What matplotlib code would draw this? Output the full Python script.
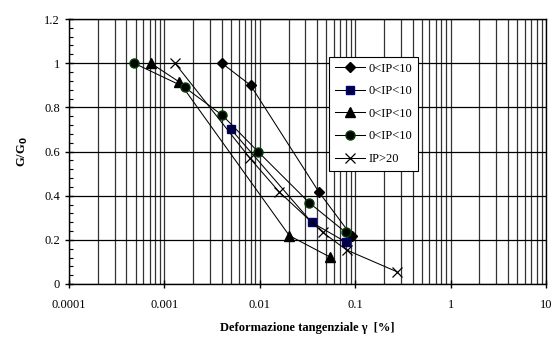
import matplotlib
matplotlib.use("Agg")
import matplotlib.pyplot as plt
from matplotlib.ticker import LogLocator, FixedLocator, MultipleLocator, NullFormatter, FixedFormatter

plt.rcParams['font.family'] = ['Liberation Serif', 'DejaVu Serif']

# Data
s1_x = [0.0040, 0.0080, 0.0414, 0.092]
s1_y = [1.00, 0.90, 0.418, 0.217]
s2_x = [0.0050, 0.035, 0.080]
s2_y = [0.70, 0.279, 0.19]
s3_x = [0.00072, 0.00143, 0.0204, 0.055]
s3_y = [1.00, 0.915, 0.219, 0.121]
s4_x = [0.00048, 0.00163, 0.00405, 0.0096, 0.033, 0.0794]
s4_y = [1.00, 0.891, 0.764, 0.599, 0.368, 0.234]
s5_x = [0.00129, 0.0079, 0.0159, 0.0455, 0.0813, 0.272]
s5_y = [1.00, 0.569, 0.418, 0.234, 0.154, 0.056]
labels = ['0<IP<10', '0<IP<10', '0<IP<10', '0<IP<10', 'IP>20']
xticks = [0.0001, 0.001, 0.01, 0.1, 1, 10]
xticklabels = ['0.0001', '0.001', '0.01', '0.1', '1', '10']
yticks = [0, 0.2, 0.4, 0.6, 0.8, 1, 1.2]
yticklabels = ['0', '0.2', '0.4', '0.6', '0.8', '1', '1.2']

fig = plt.figure(figsize=(5.54, 3.45), dpi=100)
ax = fig.add_axes([69/554, 1-284/345, 477/554, 265/345])

lw = 0.75
ax.plot(s1_x, s1_y, color='black', lw=lw, marker='D', ms=5, mfc='black', mec='black', label=labels[0], zorder=3)
ax.plot(s2_x, s2_y, color='black', lw=lw, marker='s', ms=6, mfc='#000040', mec='#000080', label=labels[1], zorder=3)
ax.plot(s3_x, s3_y, color='black', lw=lw, marker='^', ms=7, mfc='black', mec='black', label=labels[2], zorder=3)
ax.plot(s4_x, s4_y, color='black', lw=lw, marker='o', ms=6.5, mfc='black', mec='#004000', label=labels[3], zorder=3)
ax.plot(s5_x, s5_y, color='black', lw=lw, marker='x', ms=7.5, mfc='none', mec='black', mew=0.9, label=labels[4], zorder=3)

ax.set_xscale('log')
ax.set_xlim(0.0001, 10)
ax.set_ylim(0, 1.2)
ax.xaxis.set_major_locator(FixedLocator(xticks))
ax.xaxis.set_major_formatter(FixedFormatter(xticklabels))
ax.xaxis.set_minor_locator(LogLocator(base=10, subs=range(2, 10), numticks=50))
ax.xaxis.set_minor_formatter(NullFormatter())
ax.yaxis.set_major_locator(FixedLocator(yticks))
ax.yaxis.set_major_formatter(FixedFormatter(yticklabels))
ax.yaxis.set_minor_locator(MultipleLocator(0.04))

ax.grid(which='both', axis='x', color='#333333', lw=0.9)
ax.grid(which='major', axis='y', color='black', lw=0.9)
ax.set_axisbelow(True)

ax.tick_params(axis='both', which='major', direction='inout', length=6, width=1, labelsize=9, colors='black')
ax.tick_params(axis='x', which='major', pad=8)
ax.tick_params(axis='y', which='minor', direction='in', length=3, width=0.8)
ax.tick_params(axis='x', which='minor', length=0)
for sp in ax.spines.values():
    sp.set_linewidth(1.0)
    sp.set_color('black')

ax.set_xlabel('Deformazione tangenziale \u03b3  [%]', fontsize=9, fontweight='bold', labelpad=8)
ax.set_ylabel('G/G$_\\mathbf{0}$', fontsize=9, fontweight='bold', labelpad=10)

leg = ax.legend(loc='upper left', bbox_to_anchor=(0.545, 0.857), fontsize=9, frameon=True,
                fancybox=False, edgecolor='black', framealpha=1, handlelength=2.4,
                borderpad=0.45, labelspacing=0.85, handletextpad=0.3, borderaxespad=0)
leg.get_frame().set_linewidth(0.8)

fig.savefig('out.png', dpi=100)
